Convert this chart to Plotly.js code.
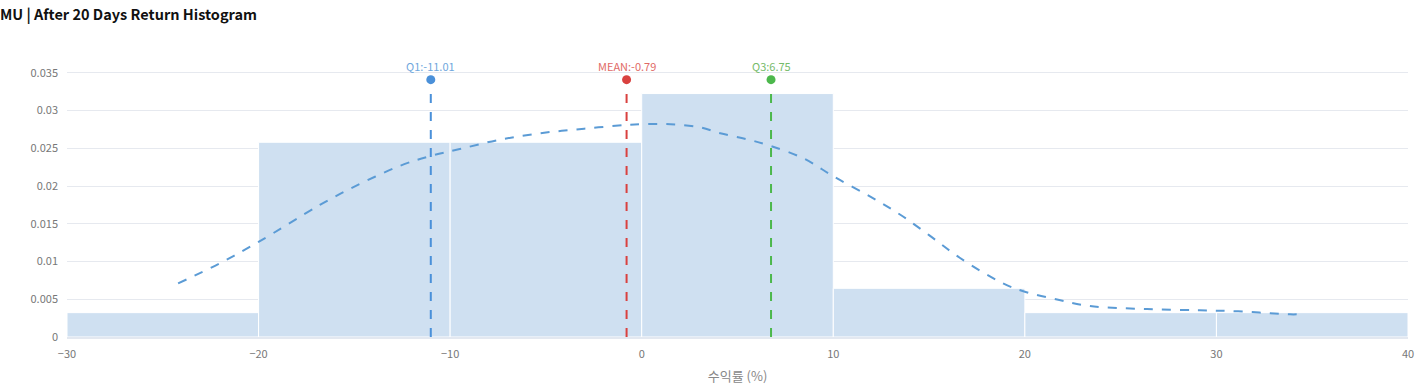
<!DOCTYPE html>
<html><head><meta charset="utf-8">
<script src="https://cdn.plot.ly/plotly-3.0.1.min.js"></script>
<style>html,body{margin:0;padding:0;background:#fff;}#chart{width:1416px;height:385px;}</style>
</head><body><div id="chart"></div>
<script>
// Histogram bins (centers) and density values
const binCenters = [-25, -15, -5, 5, 15, 25, 35];
const binDensity = [0.003226, 0.025806, 0.025806, 0.032258, 0.006452, 0.003226, 0.003226];
const binWidth = 10;

// KDE curve points
const kdeX = [-24.2, -22, -20, -16.8, -15.1, -12.6, -11, -9.5, -7.5, -5.3, -3, -0.8, 0, 1.5, 3, 4.1, 5.5, 6.75, 8.5, 10, 12, 13.5, 15, 16.6, 18.86, 20, 21.8, 23.4, 26.38, 29.14, 31.13, 33.84, 34.2];
const kdeY = [0.0071, 0.0098, 0.0126, 0.0175, 0.0198, 0.0227, 0.0240, 0.0249, 0.0261, 0.0270, 0.0276, 0.0281, 0.0282, 0.0282, 0.0278, 0.0270, 0.0262, 0.0253, 0.0236, 0.0213, 0.0185, 0.0162, 0.0135, 0.0105, 0.0071, 0.0060, 0.0049, 0.0041, 0.0037, 0.00354, 0.0034, 0.0030, 0.0030];

// Statistic markers
const statNames = ["Q1", "MEAN", "Q3"];
const statValues = [-11.01, -0.79, 6.75];
const statColors = ["#4a90d9", "#d9413f", "#4cb84c"];
const statTextColors = ["#6fa7dd", "#df6a66", "#76bb6a"];
const statTop = 0.0341;

const xTicks = [-30, -20, -10, 0, 10, 20, 30, 40];

const FONT = "'Noto Sans CJK KR', 'Noto Sans', sans-serif";

const traces = [];
traces.push({
  type: 'bar', x: binCenters, y: binDensity, width: binWidth,
  marker: {color: '#cfe0f1', line: {color: '#ffffff', width: 1}},
  hoverinfo: 'skip', showlegend: false
});
traces.push({
  type: 'scatter', mode: 'lines', x: kdeX, y: kdeY,
  line: {color: '#5b9bd5', width: 2, dash: 'dash', shape: 'spline', smoothing: 1},
  showlegend: false, hoverinfo: 'skip'
});
const annotations = [];
statValues.forEach((v, i) => {
  traces.push({
    type: 'scatter', mode: 'lines', x: [v, v], y: [0, statTop - 0.0016],
    line: {color: statColors[i], width: 2, dash: 'dash'}, showlegend: false, hoverinfo: 'skip'
  });
  traces.push({
    type: 'scatter', mode: 'markers', x: [v], y: [statTop],
    marker: {color: statColors[i], size: 9}, showlegend: false, hoverinfo: 'skip'
  });
  annotations.push({
    x: v, y: statTop, xref: 'x', yref: 'y', yshift: 14, showarrow: false,
    text: statNames[i] + ':' + v.toFixed(2),
    font: {family: FONT, size: 11, color: statTextColors[i]}
  });
});

const layout = {
  width: 1416, height: 385,
  margin: {l: 67, r: 8, t: 54, b: 48},
  paper_bgcolor: '#fff', plot_bgcolor: '#fff',
  title: {text: '<b>MU | After 20 Days Return Histogram</b>', x: 0, xanchor: 'left', xref: 'container', y: 0.975, yanchor: 'top',
          font: {family: FONT, size: 14.5, color: '#111'}, pad: {l: 0}},
  xaxis: {
    range: [-30, 40], tickvals: xTicks, showgrid: false, zeroline: false,
    showline: true, linecolor: '#e3e8f0', linewidth: 2,
    ticks: '', ticklabelstandoff: 6, tickfont: {family: FONT, size: 11, color: '#777'},
    title: {text: '수익률 (%)', font: {family: FONT, size: 13, color: '#888'}, standoff: 20}
  },
  yaxis: {
    range: [0, 0.0375], tickvals: [0, 0.005, 0.01, 0.015, 0.02, 0.025, 0.03, 0.035],
    ticktext: ['0', '0.005', '0.01', '0.015', '0.02', '0.025', '0.03', '0.035'],
    showgrid: true, gridcolor: '#e6e9ef', zeroline: false,
    tickfont: {family: FONT, size: 11, color: '#777'}, ticks: '', ticklabelstandoff: 8
  },
  bargap: 0, annotations: annotations, showlegend: false
};
Plotly.newPlot('chart', traces, layout, {displayModeBar: false, staticPlot: true});
</script></body></html>
